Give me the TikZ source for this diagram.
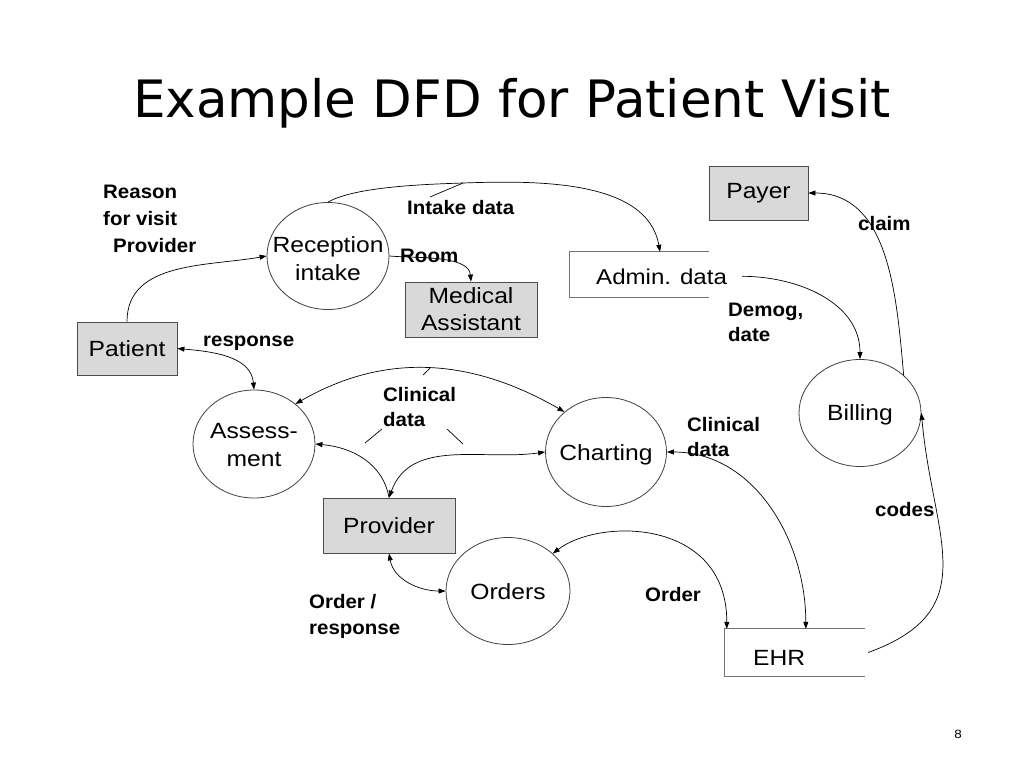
\documentclass[tikz,border=0pt]{standalone}
\usepackage{fontspec}
\setmainfont{Liberation Sans}
\newfontfamily\titlefont{DejaVu Sans}
\newfontfamily\nodefont[FakeStretch=1.12]{Liberation Sans}
\newfontfamily\labelfont[FakeStretch=1.05]{Liberation Sans}
\usepackage{tikz}
\usetikzlibrary{shapes.geometric,arrows.meta,positioning}

\begin{document}
\begin{tikzpicture}[x=1pt,y=1pt,
  proc/.style={ellipse,draw=black!75,line width=0.8pt,inner sep=0pt,minimum width=122pt,minimum height=107pt},
  ptxt/.style={font=\nodefont\fontsize{22}{28}\selectfont,align=center,inner sep=0pt},
  ent/.style={rectangle,draw=black!70,fill=black!15,line width=0.8pt,font=\nodefont\fontsize{22}{27}\selectfont,align=center,inner sep=0pt},
  store/.style={rectangle,inner sep=0pt},
  storeline/.style={draw=black!55,line width=0.8pt},
  lab/.style={font=\labelfont\bfseries\fontsize{19.5}{25}\selectfont,align=left,anchor=base west,inner sep=0pt},
  flow/.style={line width=0.7pt,-{Triangle[length=7pt,width=5pt]}},
  dflow/.style={line width=0.7pt,{Triangle[length=7pt,width=5pt]}-{Triangle[length=7pt,width=5pt]}}]
   \fill[white] (0,0) rectangle (1024,-768);
   \useasboundingbox (0,0) rectangle (1024,-768);
   \node[anchor=base,font=\titlefont\fontsize{51.5}{60}\selectfont] (title) at (512,-117) {Example DFD for Patient Visit};

   % processes
   \node[proc] (recep) at (328,-256) {};
   \node[ptxt,yshift=-3pt] (recept) at (recep) {Reception\\intake};
   \node[proc,minimum height=108pt] (assess) at (254,-444) {};
   \node[ptxt,yshift=-1pt] (assesst) at (assess) {Assess-\\ment};
   \node[proc,minimum width=121pt,minimum height=109pt] (chart) at (606,-452) {};
   \node[ptxt,yshift=-3pt] (chartt) at (chart) {Charting};
   \node[proc] (bill) at (860,-413) {};
   \node[ptxt,yshift=-2pt] (billt) at (bill) {Billing};
   \node[proc,minimum width=124pt] (orders) at (508,-591) {};
   \node[ptxt,yshift=-1pt] (orderst) at (orders) {Orders};

   % external entities
   \node[ent,minimum width=100pt,minimum height=53pt] (patient) at (127,-348.5) {Patient};
   \node[ent,minimum width=132pt,minimum height=55pt] (medas) at (471,-309.5) {Medical\\Assistant};
   \node[ent,minimum width=99pt,minimum height=54pt] (payer) at (758.5,-193) {Payer};
   \node[ent,minimum width=132pt,minimum height=55pt] (prov) at (389,-525.5) {Provider};

   % data stores
   \node[store,minimum width=139pt,minimum height=45pt] (admin) at (639.5,-274.5) {};
   \draw[storeline] (admin.north east) -- (admin.north west) -- (admin.south west) -- (admin.south east);
   \node[ptxt,anchor=base west,font=\nodefont\fontsize{21.5}{28}\selectfont] (admint) at (596,-284) {Admin. data};
   \node[store,minimum width=140pt,minimum height=47pt] (ehr) at (795,-652.5) {};
   \draw[storeline] (ehr.north east) -- (ehr.north west) -- (ehr.south west) -- (ehr.south east);
   \node[ptxt,anchor=base west] (ehrt) at (753,-665) {EHR};

   % flows
   \coordinate (intakepeak) at (463,-183);
   \coordinate (intaketick) at (430,-197);
   \draw[flow] (patient.north) to[out=90,in=190] (recep.west);
   \draw[flow] (recep.north) to[out=30,in=182,looseness=0.6] (intakepeak) to[out=2,in=100,looseness=0.9] ([xshift=20.5pt]admin.north);
   \draw[line width=0.7pt] (intakepeak) -- (intaketick);
   \draw[flow] (recep.east) to[out=-5,in=95,looseness=0.8] (medas.north);
   \draw[flow] ([xshift=15pt]admint.east) to[out=0,in=90] (bill.north);
   \draw[flow] (bill.41) to[out=95,in=0] (payer.east);
   \draw[flow] ([xshift=3pt]ehr.east) to[out=20,in=-85,looseness=1.3] (bill.east);
   \draw[dflow] (chart.east) to[out=0,in=90] ([xshift=81pt]ehr.north west);
   \draw[dflow] (orders.40) to[out=37,in=90,out distance=60pt,in distance=110pt] ([xshift=2pt]ehr.north west);
   \draw[dflow] (prov.south) to[out=-80,in=180] (orders.west);
   \draw[dflow] (prov.north) to[out=70,in=188] (chart.west);
   \draw[flow] (prov.north) to[out=100,in=-5] (assess.east);
   \draw[dflow] (patient.east) to[out=-5,in=95] (assess.north);
   \coordinate (clinpeak) at (430,-368);
   \draw[dflow] (assess.44) to[out=30,in=150] (chart.136);
   \draw[line width=0.7pt] (clinpeak) -- ++(-7,-7);
   \draw[line width=0.7pt] (365,-443) -- (382,-429);
   \draw[line width=0.7pt] (447,-429) -- (463,-444);

   % labels
   \node[lab,anchor=north west,font=\labelfont\bfseries\fontsize{19.5}{27}\selectfont] (reason) at (103,-185) {Reason\\for visit\\\hspace*{10pt}Provider};
   \node[lab] (intake) at (407,-214) {Intake data};
   \node[lab] (room) at (400,-262) {Room};
   \node[lab] (resp) at (203,-346) {response};
   \node[lab,anchor=north west] (clin1) at (383,-387) {Clinical\\data};
   \node[lab,anchor=north west] (demog) at (728,-303) {Demog,\\date};
   \node[lab] (claim) at (858,-230) {claim};
   \node[lab,anchor=north west] (clin2) at (687,-417) {Clinical\\data};
   \node[lab] (codes) at (875,-516) {codes};
   \node[lab,anchor=north west,font=\labelfont\bfseries\fontsize{19.5}{26}\selectfont] (ordresp) at (309,-594) {Order /\\response};
   \node[lab] (order) at (645,-601) {Order};

   \node[anchor=base,font=\nodefont\fontsize{12}{14}\selectfont] (pagenum) at (958,-738) {8};
\end{tikzpicture}
\end{document}
